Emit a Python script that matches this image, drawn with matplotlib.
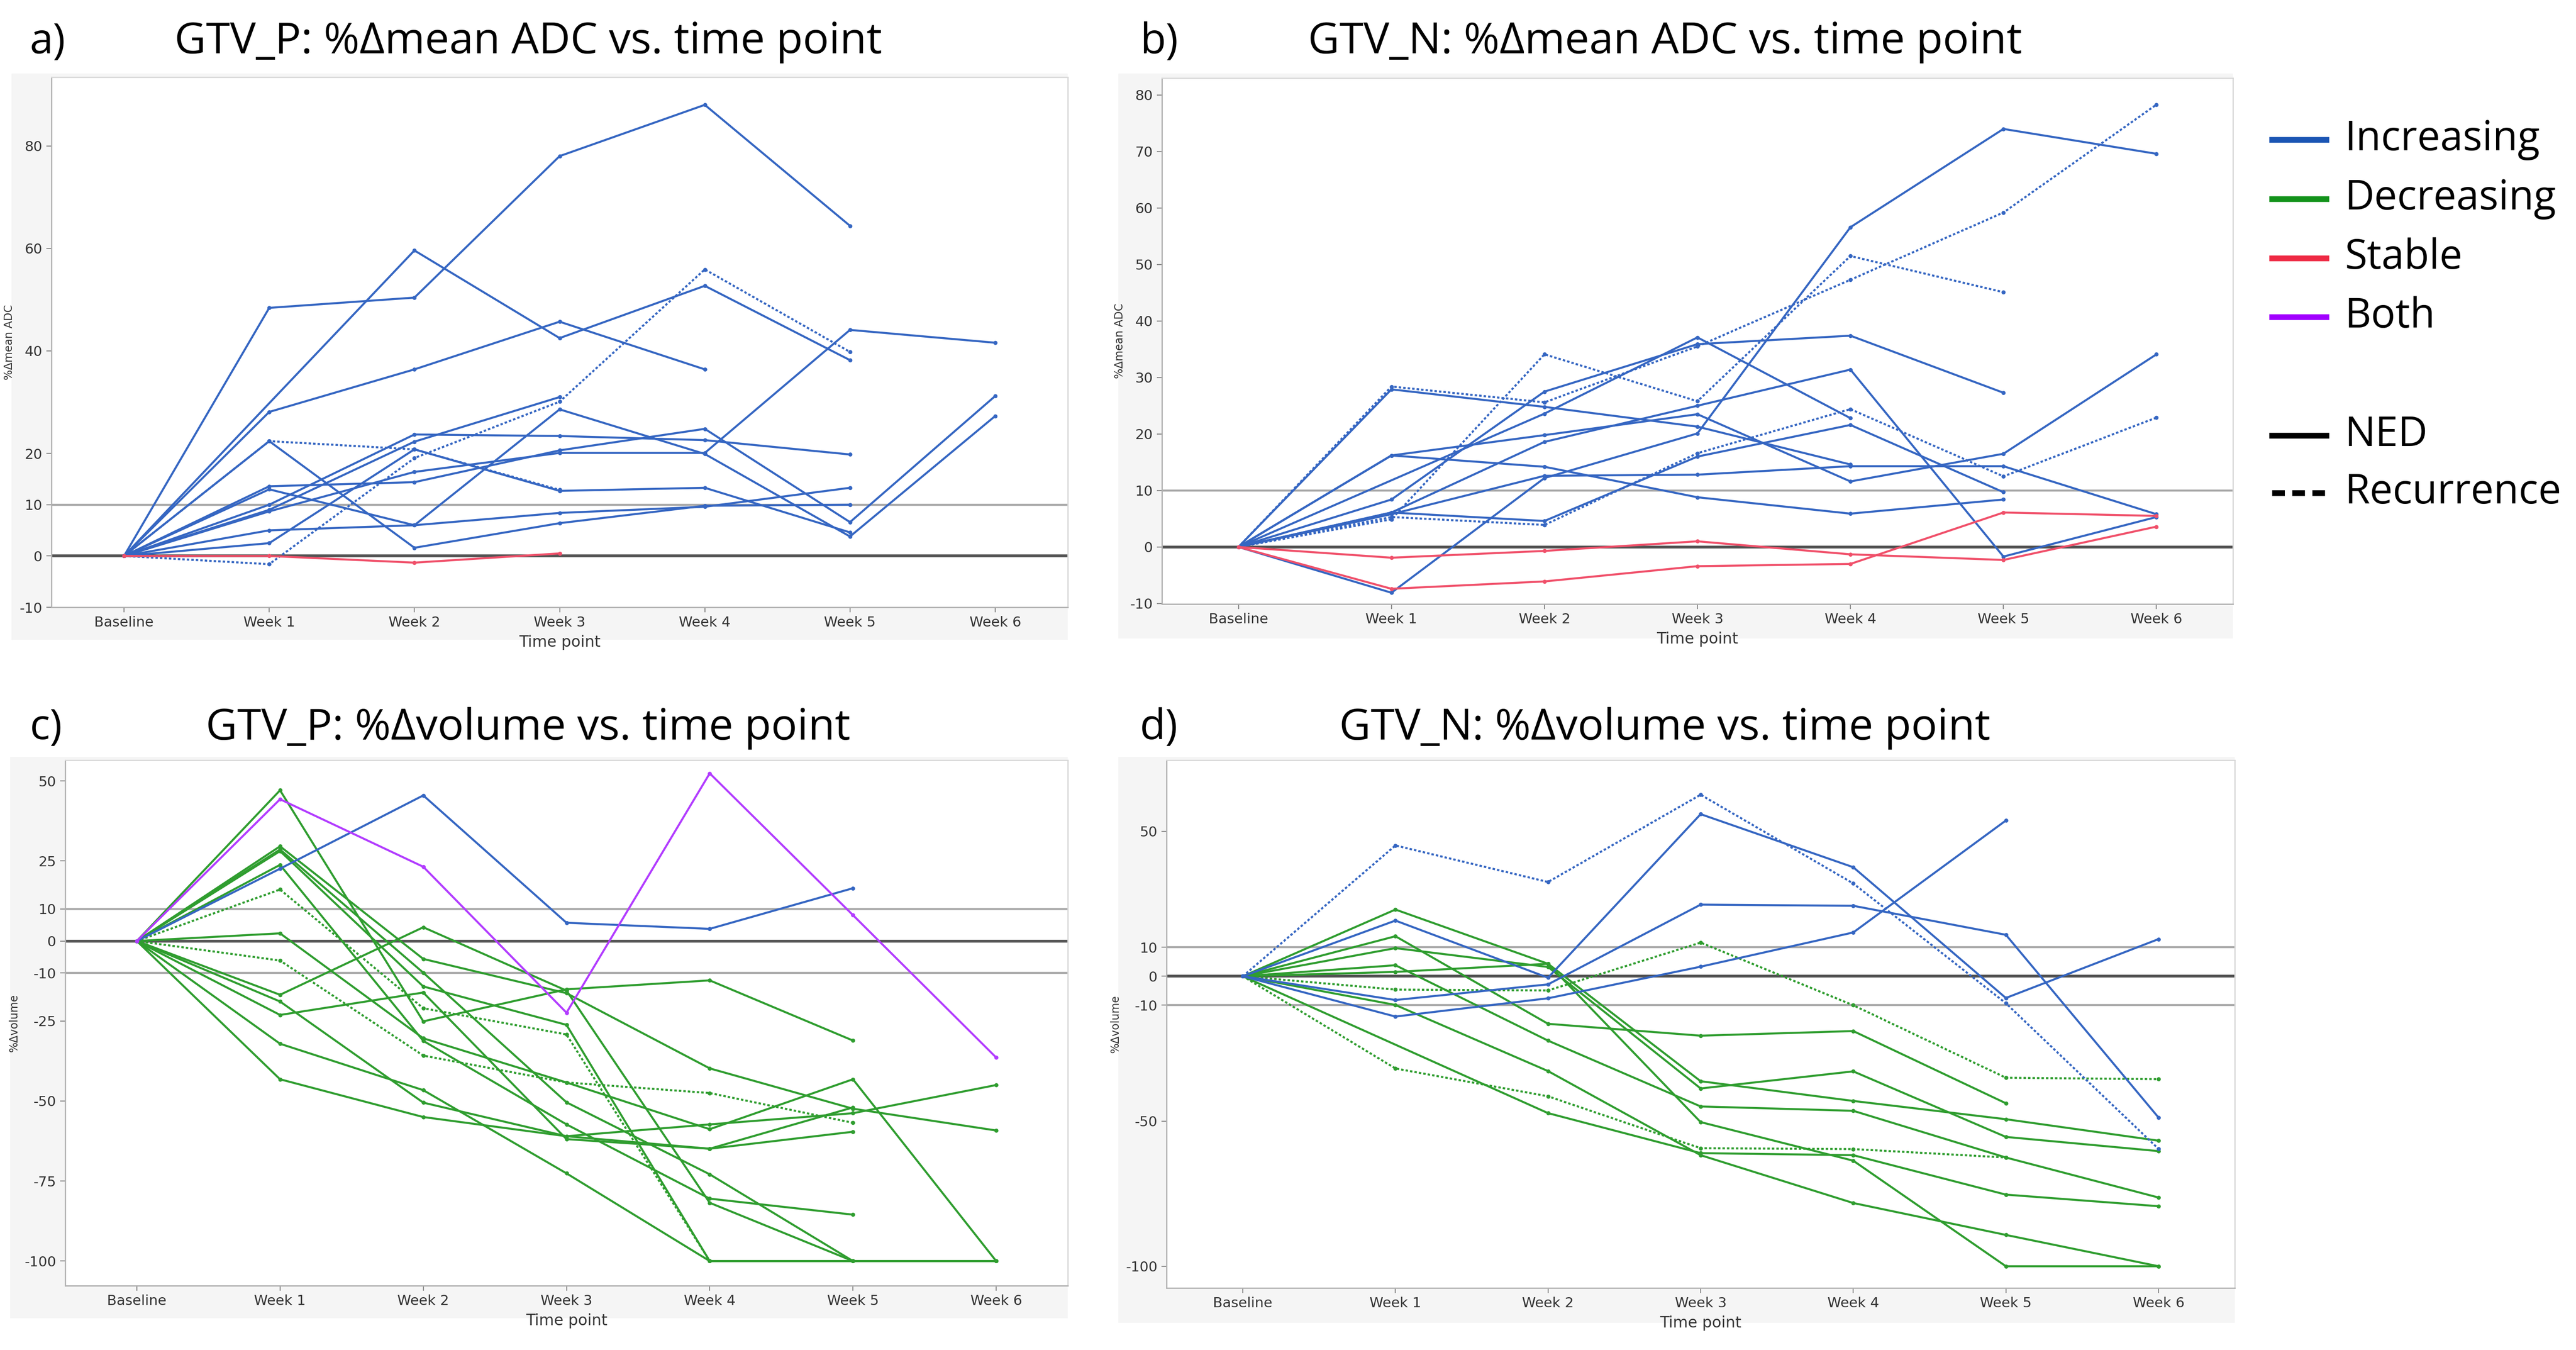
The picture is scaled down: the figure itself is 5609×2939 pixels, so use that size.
import numpy as np
import matplotlib.pyplot as plt
from matplotlib.lines import Line2D

W, H = 5609, 2939
nan = np.nan

time_labels = ['Baseline', 'Week 1', 'Week 2', 'Week 3', 'Week 4', 'Week 5', 'Week 6']

# a) GTV_P %Δmean ADC
adc_p_values = [
    [0, 48.4, 50.4, 78.0, 88.0, 64.4, nan],
    [0, nan, 59.6, 42.5, 52.7, 38.2, nan],
    [0, 28.1, 36.4, 45.7, 36.4, nan, nan],
    [0, -1.6, 19.1, 30.1, 55.9, 39.8, nan],
    [0, 22.4, 20.8, 12.9, nan, nan, nan],
    [0, 22.4, 1.6, 6.4, 9.8, 10.0, nan],
    [0, 13.6, 14.4, 20.6, 24.8, 6.6, 31.2],
    [0, 13.0, 6.0, 28.6, 19.9, 3.8, 27.3],
    [0, 10.0, 23.7, 23.4, 22.6, 19.8, nan],
    [0, 9.0, 22.3, 31.0, nan, nan, nan],
    [0, 8.7, 16.4, 20.1, 20.1, 44.1, 41.6],
    [0, 5.0, 6.0, 8.4, 9.6, 13.3, nan],
    [0, 2.5, 20.8, 12.7, 13.3, 4.6, nan],
    [0, 0.0, -1.3, 0.5, nan, nan, nan],
]
adc_p_group = ['inc'] * 13 + ['stable']
adc_p_recur = [0, 0, 0, 1, 1, 0, 0, 0, 0, 0, 0, 0, 0, 0]

# b) GTV_N %Δmean ADC
adc_n_values = [
    [0, 27.9, 24.8, 21.3, 14.6, nan, nan],
    [0, 16.2, 19.8, 23.5, 11.6, 16.5, 34.1],
    [0, 16.2, 14.2, 8.8, 5.9, 8.4, nan],
    [0, 8.4, 27.5, 35.9, 37.4, 27.3, nan],
    [0, nan, 23.6, 37.1, 22.8, nan, nan],
    [0, -8.1, 12.2, 20.1, 56.6, 74.0, 69.6],
    [0, 6.1, 18.6, 25.0, 31.4, -1.7, 5.3],
    [0, 6.1, 4.6, 16.0, 21.6, 9.7, nan],
    [0, 5.8, 12.6, 12.8, 14.3, 14.3, 5.8],
    [0, 28.4, 25.6, 35.5, 47.3, 59.2, 78.3],
    [0, 4.9, 34.1, 25.8, 51.5, 45.1, nan],
    [0, 5.3, 3.9, 16.6, 24.4, 12.5, 22.9],
    [0, -1.9, -0.7, 1.0, -1.3, -2.3, 3.6],
    [0, -7.4, -6.1, -3.4, -3.0, 6.1, 5.5],
]
adc_n_group = ['inc'] * 12 + ['stable'] * 2
adc_n_recur = [0, 0, 0, 0, 0, 0, 0, 0, 0, 1, 1, 1, 0, 0]

# c) GTV_P %Δvolume
vol_p_values = [
    [0, 47.1, -25.1, -15.1, -12.3, -31.1, nan],
    [0, 29.6, -5.6, -16.3, -39.8, -52.4, -59.2],
    [0, 28.6, -9.9, -50.4, -72.9, -100, nan],
    [0, 28.1, -14.2, -26.2, -100, -100, -100],
    [0, 23.8, -31.2, -57.3, -80.5, -85.5, nan],
    [0, 16.1, -21.0, -29.2, -100, nan, nan],
    [0, 2.4, -30.4, -44.2, -58.8, -43.2, -100],
    [0, -6.1, -35.8, -44.2, -47.5, -56.8, nan],
    [0, -16.8, 4.3, -15.5, -81.8, -100, nan],
    [0, -18.9, -50.5, -61.0, -57.3, -53.8, -45.0],
    [0, -23.1, -16.1, -61.9, -64.9, -52.0, nan],
    [0, -32.1, -46.6, -72.6, -100, -100, -100],
    [0, -43.2, -55.0, -61.0, -64.9, -59.6, nan],
    [0, 22.6, 45.5, 5.7, 3.8, 16.5, nan],
    [0, 44.3, 23.2, -22.4, 52.4, 8.1, -36.4],
]
vol_p_group = ['dec'] * 13 + ['inc', 'both']
vol_p_recur = [0, 0, 0, 0, 0, 1, 0, 1, 0, 0, 0, 0, 0, 0, 0]

# d) GTV_N %Δvolume
vol_n_values = [
    [0, 23.0, 4.3, -36.2, -43.0, -49.3, -56.7],
    [0, 13.8, -16.4, -20.5, -18.9, -43.8, nan],
    [0, 9.7, 3.2, -38.7, -32.8, -55.4, -60.3],
    [0, 3.8, -22.2, -44.9, -46.4, -62.5, -76.3],
    [0, 1.5, 4.3, -50.3, -63.6, -100, -100],
    [0, -9.9, -32.7, -61.7, -78.2, -89.2, -100],
    [0, nan, -47.2, -61.0, -61.7, -75.3, -79.3],
    [0, -4.6, -4.9, 11.6, -10.0, -35.0, -35.5],
    [0, -31.8, -41.4, -59.3, -59.6, -62.5, nan],
    [0, 45.1, 32.5, 62.6, 32.0, -9.3, -59.5],
    [0, 19.2, -0.5, 55.9, 37.6, -7.5, 12.8],
    [0, -8.2, -2.8, 24.7, 24.3, 14.3, -48.7],
    [0, -13.9, -7.6, 3.3, 15.1, 53.7, nan],
]
vol_n_group = ['dec'] * 9 + ['inc'] * 4
vol_n_recur = [0, 0, 0, 0, 0, 0, 0, 1, 1, 1, 0, 0, 0]

line_colors = {'inc': '#3566c2', 'dec': '#2f9d2f', 'stable': '#f0506a', 'both': '#b23cff'}
legend_labels = ['Increasing', 'Decreasing', 'Stable', 'Both']
legend_colors = ['#1b55b4', '#13921b', '#ee2a44', '#a100ff']

narrow = ['Liberation Sans Narrow', 'DejaVu Sans Condensed', 'DejaVu Sans']
title_font = ['Open Sans', 'DejaVu Sans']


def fig_rect(left, top, right, bottom):
    return [left / W, 1 - bottom / H, (right - left) / W, (bottom - top) / H]


def draw_panel(fig, box, pos, values, groups, recur, yticks, ylim, ylabel, hlines):
    # light gray JMP-style frame behind the plot area
    bg = fig.add_axes(box, zorder=0)
    bg.set_facecolor('#f5f5f5')
    bg.set_xticks([])
    bg.set_yticks([])
    for s in bg.spines.values():
        s.set_visible(False)
    ax = fig.add_axes(pos, zorder=1)
    ax.set_facecolor('white')
    x = np.arange(len(time_labels))
    for y0, c, lw in hlines:
        ax.axhline(y0, color=c, lw=lw, zorder=1)
    for vals, g, r in zip(values, groups, recur):
        v = np.array(vals, dtype=float)
        ok = ~np.isnan(v)
        ls = (0, (1.2, 1.0)) if r else '-'
        ax.plot(x[ok], v[ok], color=line_colors[g], lw=1.6, ls=ls, marker='o', ms=2.2,
                zorder=3)
    ax.set_xlim(-0.5, 6.5)
    ax.set_ylim(*ylim)
    ax.set_xticks(x)
    ax.set_xticklabels(time_labels, family=narrow, fontsize=11, color='#333333')
    ax.set_yticks(yticks)
    ax.set_yticklabels([str(t) for t in yticks], family=narrow, fontsize=11, color='#333333')
    ax.tick_params(length=4, width=0.8, color='#888888', pad=3)
    for s in ax.spines.values():
        s.set_color('#d8d8d8')
        s.set_linewidth(1.0)
    ax.spines['left'].set_color('#b0b0b0')
    ax.spines['bottom'].set_color('#b0b0b0')
    ax.set_xlabel('Time point', family=narrow, fontsize=12, color='#333333', labelpad=4)
    ax.set_ylabel(ylabel, fontsize=8.5, color='#333333', labelpad=4)
    return ax


fig = plt.figure(figsize=(W / 200, H / 200), dpi=200)

ref_adc = [(0, '#555555', 2.2), (10, '#a8a8a8', 1.6)]
ref_vol = [(0, '#555555', 2.2), (10, '#a8a8a8', 1.6), (-10, '#a8a8a8', 1.6)]

draw_panel(fig, fig_rect(25, 160, 2325, 1393), fig_rect(112, 168, 2325, 1322),
           adc_p_values, adc_p_group, adc_p_recur, [-10, 0, 10, 20, 40, 60, 80],
           (-10, 93.4), '%\u0394mean ADC', ref_adc)
draw_panel(fig, fig_rect(2435, 160, 4862, 1390), fig_rect(2530, 170, 4862, 1315),
           adc_n_values, adc_n_group, adc_n_recur, list(range(-10, 81, 10)),
           (-10.1, 83.0), '%\u0394mean ADC', ref_adc)
draw_panel(fig, fig_rect(22, 1648, 2325, 2870), fig_rect(142, 1655, 2325, 2799),
           vol_p_values, vol_p_group, vol_p_recur, [-100, -75, -50, -25, -10, 0, 10, 25, 50],
           (-107.7, 56.5), '%\u0394volume', ref_vol)
draw_panel(fig, fig_rect(2435, 1648, 4866, 2880), fig_rect(2540, 1655, 4866, 2804),
           vol_n_values, vol_n_group, vol_n_recur, [-100, -50, -10, 0, 10, 50],
           (-107.5, 74.5), '%\u0394volume', ref_vol)

# panel letters and titles
titles = [
    ('a)', 65, 92, 'GTV_P: %\u0394mean ADC vs. time point', 1150),
    ('b)', 2482, 92, 'GTV_N: %\u0394mean ADC vs. time point', 3625),
    ('c)', 65, 1585, 'GTV_P: %\u0394volume vs. time point', 1150),
    ('d)', 2482, 1585, 'GTV_N: %\u0394volume vs. time point', 3625),
]
for letter, lx, ly, text, tx in titles:
    fig.text(lx / W, 1 - ly / H, letter, family=title_font, fontsize=33, va='center', ha='left')
    fig.text(tx / W, 1 - ly / H, text, family=title_font, fontsize=34, va='center', ha='center')

# legend
rows_y = [304, 433, 562, 690]
for lab, col, yy in zip(legend_labels, legend_colors, rows_y):
    fig.add_artist(Line2D([4947 / W, 5065 / W], [1 - yy / H, 1 - yy / H], color=col, lw=4.5,
                          transform=fig.transFigure))
    fig.text(5105 / W, 1 - yy / H, lab, family=title_font, fontsize=32, va='center', ha='left')
for lab, ls, yy in [('NED', '-', 948), ('Recurrence', (0, (2.2, 1.3)), 1073)]:
    fig.add_artist(Line2D([4947 / W, 5065 / W], [1 - yy / H, 1 - yy / H], color='black', lw=4.5,
                          ls=ls, transform=fig.transFigure))
    fig.text(5105 / W, 1 - yy / H, lab, family=title_font, fontsize=32, va='center', ha='left')

fig.savefig('out.png', dpi=200)
